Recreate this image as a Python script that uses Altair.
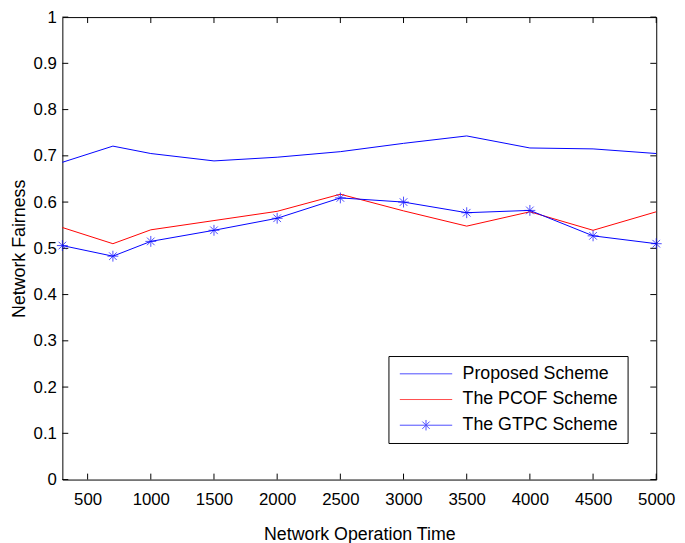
import altair as alt
import pandas as pd

# ---- data ----
time_points = [300, 700, 1000, 1500, 2000, 2500, 3000, 3500, 4000, 4500, 5000]
proposed = [0.686, 0.721, 0.705, 0.689, 0.697, 0.709, 0.727, 0.743, 0.717, 0.715, 0.705]
pcof = [0.545, 0.510, 0.540, 0.560, 0.580, 0.617, 0.581, 0.548, 0.579, 0.539, 0.579]
gtpc = [0.506, 0.483, 0.515, 0.539, 0.565, 0.609, 0.600, 0.577, 0.582, 0.527, 0.510]

series_names = ["Proposed Scheme", "The PCOF Scheme", "The GTPC Scheme"]
series_colors = ["#0000ff", "#ff0000", "#0000ff"]

x_ticks = [500, 1000, 1500, 2000, 2500, 3000, 3500, 4000, 4500, 5000]
y_ticks = [0, 0.1, 0.2, 0.3, 0.4, 0.5, 0.6, 0.7, 0.8, 0.9, 1]

# ---- styles ----
W, H = 601, 468
TICK = 6
FONT = "Liberation Sans"
STAR = "M-1,0H1M0,-1V1M-0.7,-0.7L0.7,0.7M-0.7,0.7L0.7,-0.7"
LEGEND_STAR = "M-1,0H1M0,-0.2V0.2M-0.14,-0.14L0.14,0.14M-0.14,0.14L0.14,-0.14"

rows = []
for name, vals in zip(series_names, [proposed, pcof, gtpc]):
    for t, v in zip(time_points, vals):
        rows.append({"time": t, "value": v, "series": name})
df = pd.DataFrame(rows)
df_xt = pd.DataFrame({"time": x_ticks})
df_yt = pd.DataFrame({"value": y_ticks})
df_leg = pd.DataFrame({"series": series_names})

x_scale = alt.Scale(domain=[300, 5000], nice=False, zero=False)
y_scale = alt.Scale(domain=[0, 1], nice=False, zero=False)
x_axis = alt.Axis(values=x_ticks, format="d", ticks=False, domain=False, grid=False,
                  labelFontSize=17, labelPadding=12, labelFlush=False, labelOverlap=False,
                  title="Network Operation Time", titleFontSize=18, titlePadding=19,
                  titleFontWeight="normal")
y_axis = alt.Axis(values=y_ticks, format="~g", ticks=False, domain=False, grid=False,
                  labelFontSize=17, labelPadding=6, labelFlush=False, labelOverlap=False,
                  title="Network Fairness", titleFontSize=18, titlePadding=5,
                  titleFontWeight="normal")

X = alt.X("time:Q", scale=x_scale, axis=x_axis)
Y = alt.Y("value:Q", scale=y_scale, axis=y_axis)
color = alt.Color("series:N", scale=alt.Scale(domain=series_names, range=series_colors),
                  legend=alt.Legend(title=None))

lines = alt.Chart(df).mark_line(strokeWidth=1).encode(
    x=X, y=Y, color=color, detail="series:N",
    order=alt.Order("time:Q"))

stars = alt.Chart(df).transform_filter(
    alt.datum.series == "The GTPC Scheme"
).mark_point(shape=STAR, filled=False, size=121, strokeWidth=1).encode(
    x=X, y=Y, color=color)

legend_layer = alt.Chart(df_leg).transform_filter("false").mark_point(filled=False).encode(
    color=color,
    shape=alt.Shape("series:N",
                    scale=alt.Scale(domain=series_names,
                                    range=["stroke", "stroke", LEGEND_STAR]),
                    legend=alt.Legend(title=None)))

tick_bottom = alt.Chart(df_xt).mark_rule(color="black", strokeWidth=1).encode(
    x=X, y=alt.value(H), y2=alt.value(H - TICK))
tick_top = alt.Chart(df_xt).mark_rule(color="black", strokeWidth=1).encode(
    x=X, y=alt.value(0), y2=alt.value(TICK))
tick_left = alt.Chart(df_yt).mark_rule(color="black", strokeWidth=1).encode(
    y=Y, x=alt.value(0), x2=alt.value(TICK))
tick_right = alt.Chart(df_yt).mark_rule(color="black", strokeWidth=1).encode(
    y=Y, x=alt.value(W - TICK), x2=alt.value(W))

chart = alt.layer(
    tick_bottom, tick_top, tick_left, tick_right, lines, stars, legend_layer
).properties(
    width=W, height=H,
    autosize=alt.AutoSizeParams(type="none"),
    padding={"left": 55, "top": 6, "right": 21, "bottom": 61},
    background="white",
).configure(
    font=FONT,
).configure_view(
    stroke="black", strokeWidth=1,
).configure_axis(
    labelColor="black", titleColor="black", labelFont=FONT, titleFont=FONT,
).configure_legend(
    orient="none", legendX=330, legendY=343,
    strokeColor="black", fillColor="white", padding=9, cornerRadius=0,
    labelFontSize=18, labelFont=FONT, labelColor="black", labelLimit=0,
    symbolSize=2809, symbolStrokeWidth=1, symbolType="stroke",
    clipHeight=18, rowPadding=8, labelOffset=10, symbolOffset=2,
)

chart.save("out.html", embed_options={"renderer": "svg", "actions": False})
